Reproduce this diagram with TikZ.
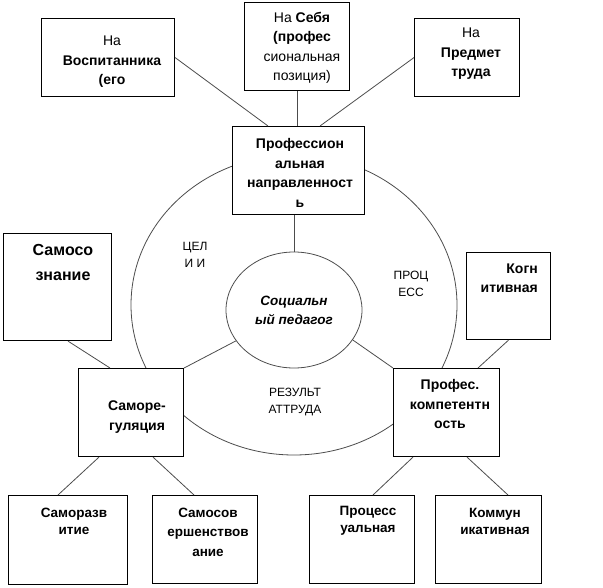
\documentclass[tikz,border=0pt]{standalone}
\usepackage{fontspec}
\setmainfont{Liberation Sans}
\usetikzlibrary{shapes.geometric}

\begin{document}
\begin{tikzpicture}[x=1pt, y=-1pt,
	box/.style={draw, fill=white, line width=1.1pt, inner sep=0pt, anchor=north west},
	txt/.style={font=\fontsize{14}{19.5}\selectfont, align=center, inner sep=0pt},
	btxt/.style={txt, font=\fontsize{14}{19.5}\selectfont\bfseries},
	word/.style={font=\fontsize{12}{17.5}\selectfont, align=center, inner sep=0pt},
	ring/.style={draw=black!70, line width=0.8pt}]
	\useasboundingbox (0,0) rectangle (603,587);

	\draw[ring] (294,305) ellipse [x radius=163pt, y radius=150pt];
	\node[ring, ellipse, minimum width=136pt, minimum height=116pt, inner sep=0pt, align=center,
		font=\fontsize{13.5}{19}\selectfont\bfseries\itshape] (soc) at (294,310) {Социальн\\ый педагог};

	\node[box, minimum width=133pt, minimum height=78pt] (vosp) at (41,18) {};
	\node[box, minimum width=105pt, minimum height=88pt] (sebya) at (244,2) {};
	\node[box, minimum width=105pt, minimum height=78pt] (predmet) at (414,18) {};
	\node[box, minimum width=132pt, minimum height=88pt] (prof) at (232,126) {};
	\node[box, minimum width=108pt, minimum height=107pt] (samosozn) at (3,233) {};
	\node[box, minimum width=84pt, minimum height=87pt] (kogn) at (466,252) {};
	\node[box, minimum width=105pt, minimum height=88pt] (samoreg) at (78,368) {};
	\node[box, minimum width=106pt, minimum height=88pt] (profes) at (393,368) {};
	\node[box, minimum width=119pt, minimum height=89pt] (samorazv) at (8,495) {};
	\node[box, minimum width=105pt, minimum height=88pt] (samosov) at (152,495) {};
	\node[box, minimum width=105pt, minimum height=88pt] (proc) at (309,495) {};
	\node[box, minimum width=106pt, minimum height=88pt] (komm) at (435,495) {};

	\node[txt] (vosp-t) at (112,62) {На\\\textbf{Воспитанника}\\\textbf{(его}};
	\node[txt] (sebya-t) at (302,48) {На \textbf{Себя}\\\textbf{(профес}\\сиональная\\позиция)};
	\node[txt] (predmet-t) at (471,54) {На\\\textbf{Предмет}\\\textbf{труда}};
	\node[btxt] (prof-t) at (300,173) {Профессион\\альная\\направленност\\ь};
	\node[txt, font=\fontsize{16}{25}\selectfont\bfseries] (samosozn-t) at (63,262) {Самосо\\знание};
	\node[btxt, align=right, anchor=east] (kogn-t) at (538,278) {Когн\\итивная};
	\node[btxt] (samoreg-t) at (137,417) {Саморе-\\гуляция};
	\node[btxt] (profes-t) at (450,404) {Профес.\\компетентн\\ость};
	\node[txt, font=\fontsize{13.5}{17}\selectfont\bfseries] (samorazv-t) at (74,521) {Саморазв\\итие};
	\node[txt, font=\fontsize{13.5}{19.5}\selectfont\bfseries] (samosov-t) at (208,532) {Самосов\\ершенствов\\ание};
	\node[txt, font=\fontsize{13.5}{17}\selectfont\bfseries] (proc-t) at (368,521) {Процесс\\уальная};
	\node[txt, font=\fontsize{13.5}{17}\selectfont\bfseries] (komm-t) at (495,521) {Коммун\\икативная};

	\node[word] (celi) at (195,255) {ЦЕЛ\\И И};
	\node[word] (process) at (411,284) {ПРОЦ\\ЕСС};
	\node[word] (result) at (295,402) {РЕЗУЛЬТ\\АТТРУДА};

	\path[ring]
	(vosp.east) edge ([xshift=36pt]prof.north west)
	(sebya.south) edge (sebya.south |- prof.north)
	(predmet.west) edge ([xshift=88pt]prof.north west)
	(soc.north |- prof.south) edge (soc.north)
	([xshift=65pt]samosozn.south west) edge ([xshift=32pt]samoreg.north west)
	(samoreg.north east) edge (soc.208)
	(soc.333) edge (profes.north west)
	(kogn.south) edge ([xshift=85pt]profes.north west)
	([xshift=21pt]samoreg.south west) edge ([xshift=50pt]samorazv.north west)
	([xshift=75pt]samoreg.south west) edge ([xshift=42pt]samosov.north west)
	([xshift=20pt]profes.south west) edge ([xshift=64pt]proc.north west)
	([xshift=74pt]profes.south west) edge ([xshift=73pt]komm.north west)
	;
\end{tikzpicture}
\end{document}
